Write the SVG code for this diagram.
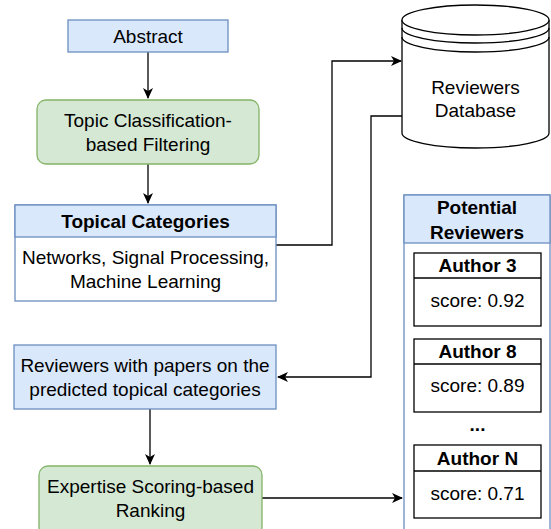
<svg xmlns="http://www.w3.org/2000/svg" width="551" height="529" viewBox="0 0 551 529">
<style>
text{font-family:"Liberation Sans",Arial,Helvetica,sans-serif;font-size:19px;fill:#000;text-anchor:middle}
.b{font-weight:bold}
.blue{fill:#dae8fc;stroke:#6c8ebf;stroke-width:1.3}
.green{fill:#d5e8d4;stroke:#82b366;stroke-width:1.3}
.white{fill:#fff;stroke:#6c8ebf;stroke-width:1.3}
.blk{fill:#fff;stroke:#000;stroke-width:1.3}
.edge{fill:none;stroke:#000;stroke-width:1.3;marker-end:url(#arr)}
</style>
<defs>
<marker id="arr" markerWidth="12" markerHeight="10" refX="10" refY="5" orient="auto" markerUnits="userSpaceOnUse">
<path d="M0,0 L11,5 L0,10 L3,5 Z" fill="#000"/>
</marker>
</defs>
<rect width="551" height="529" fill="#fff"/>
<g id="connectors">
<path class="edge" d="M148,52 V98"/>
<path class="edge" d="M148,164 V203"/>
<path class="edge" d="M276,245 H332 V61 H401"/>
<path class="edge" d="M402,116 H371 V377 H278"/>
<path class="edge" d="M150,409 V464"/>
<path class="edge" d="M262,498 H402"/>
</g>
<g id="abstract">
<rect class="blue" x="68" y="20" width="160" height="32"/>
<text x="148" y="42.5">Abstract</text>
</g>
<g id="topic-filtering">
<rect class="green" x="37" y="100" width="222" height="64" rx="9"/>
<text x="148" y="127">Topic Classification-</text>
<text x="148" y="151">based Filtering</text>
</g>
<g id="topical-categories">
<rect class="white" x="15" y="205" width="261" height="96"/>
<rect class="blue" x="15" y="205" width="261" height="32"/>
<text class="b" x="145.5" y="228">Topical Categories</text>
<text x="145.5" y="264">Networks, Signal Processing,</text>
<text x="145.5" y="288">Machine Learning</text>
</g>
<g id="database">
<path class="blk" d="M402,20 V133 A73.5,15 0 0 0 549,133 V20"/>
<ellipse class="blk" cx="475.5" cy="20" rx="73.5" ry="15"/>
<path fill="none" stroke="#000" stroke-width="1.3" d="M402,28 A73.5,15 0 0 0 549,28 M402,37 A73.5,15 0 0 0 549,37"/>
<text x="475.5" y="94">Reviewers</text>
<text x="475.5" y="117">Database</text>
</g>
<g id="reviewers-papers">
<rect class="blue" x="14" y="345" width="262" height="64"/>
<text x="145" y="372">Reviewers with papers on the</text>
<text x="145" y="396">predicted topical categories</text>
</g>
<g id="expertise-ranking">
<rect class="green" x="39" y="466" width="223" height="70" rx="9"/>
<text x="150.5" y="493">Expertise Scoring-based</text>
<text x="150.5" y="517">Ranking</text>
</g>
<g id="potential-reviewers">
<rect class="white" x="404" y="195" width="146" height="345"/>
<rect class="blue" x="404" y="195" width="146" height="48"/>
<text class="b" x="477" y="214">Potential</text>
<text class="b" x="477" y="239">Reviewers</text>
</g>
<g id="author-3">
<rect class="blk" x="414" y="253" width="127" height="73"/>
<line x1="414" y1="278" x2="541" y2="278" stroke="#000" stroke-width="1.3"/>
<text class="b" x="477.5" y="272">Author 3</text>
<text x="477.5" y="307">score: 0.92</text>
</g>
<g id="author-8">
<rect class="blk" x="414" y="339" width="127" height="73"/>
<line x1="414" y1="364" x2="541" y2="364" stroke="#000" stroke-width="1.3"/>
<text class="b" x="477.5" y="358">Author 8</text>
<text x="477.5" y="392">score: 0.89</text>
</g>
<text class="b" x="477.5" y="431">...</text>
<g id="author-n">
<rect class="blk" x="414" y="445" width="127" height="73"/>
<line x1="414" y1="471" x2="541" y2="471" stroke="#000" stroke-width="1.3"/>
<text class="b" x="477.5" y="465">Author N</text>
<text x="477.5" y="500">score: 0.71</text>
</g>
</svg>
